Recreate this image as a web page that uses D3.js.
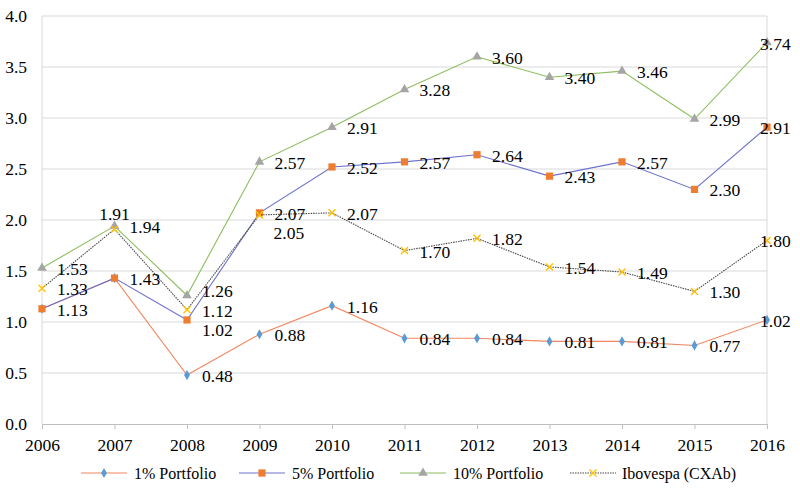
<!DOCTYPE html>
<html>
<head>
<meta charset="utf-8">
<script src="https://cdn.jsdelivr.net/npm/d3@7"></script>
<style>
  html, body { margin: 0; padding: 0; background: #fff; }
  svg { display: block; }
  svg text { font-family: "Liberation Serif", "Tinos", "DejaVu Serif", "Noto Serif", serif !important; }
</style>
</head>
<body>
<svg id="chart" width="800" height="493"></svg>
<script>
const years = ["2006","2007","2008","2009","2010","2011","2012","2013","2014","2015","2016"];
const p1  = [1.13, 1.43, 0.48, 0.88, 1.16, 0.84, 0.84, 0.81, 0.81, 0.77, 1.02];
const p5  = [1.13, 1.43, 1.02, 2.07, 2.52, 2.57, 2.64, 2.43, 2.57, 2.30, 2.91];
const p10 = [1.53, 1.94, 1.26, 2.57, 2.91, 3.28, 3.60, 3.40, 3.46, 2.99, 3.74];
const ibov = [1.33, 1.91, 1.12, 2.05, 2.07, 1.70, 1.82, 1.54, 1.49, 1.30, 1.80];
const yTicks = [0, 0.5, 1.0, 1.5, 2.0, 2.5, 3.0, 3.5, 4.0];
const seriesNames = ["1% Portfolio", "5% Portfolio", "10% Portfolio", "Ibovespa (CXAb)"];

(function () {
const FONT = '"Liberation Serif", "Tinos", "DejaVu Serif", serif';
const series = [
  {name: seriesNames[0], values: p1,  line: "#F2865E", marker: "#5B9BD5", shape: "diamond", dash: null, showLabel: i => i >= 2},
  {name: seriesNames[1], values: p5,  line: "#6D72CC", marker: "#ED7D31", shape: "square",  dash: null, showLabel: i => true},
  {name: seriesNames[2], values: p10, line: "#8DBE5E", marker: "#A5A5A5", shape: "triangle",dash: null, showLabel: i => true},
  {name: seriesNames[3], values: ibov,line: "#4a4a4a", marker: "#FFC000", shape: "cross",   dash: "1.5,1", showLabel: i => true}
];

// special label placements (style, not data)
const labelPlacement = {
  "3-1": "above",   // Ibovespa 2007
  "3-3": "below",   // Ibovespa 2009
  "1-2": "lower",   // 5% 2008
  "2-2": "higher"   // 10% 2008
};

const svg = d3.select("#chart");
const mLeft = 42, mRight = 767, mTop = 16, mBottom = 424;

const x = d3.scalePoint().domain(years).range([mLeft, mRight]);
const y = d3.scaleLinear().domain([0, 4]).range([mBottom, mTop]);

// gridlines
svg.append("g").selectAll("line").data(yTicks.filter(d => d > 0)).join("line")
  .attr("x1", mLeft).attr("x2", mRight)
  .attr("y1", d => y(d)).attr("y2", d => y(d))
  .attr("stroke", "#d9d9d9").attr("stroke-width", 1);

svg.append("line").attr("x1", mLeft).attr("x2", mLeft).attr("y1", mTop).attr("y2", mBottom)
  .attr("stroke", "#d9d9d9");
svg.append("line").attr("x1", mRight).attr("x2", mRight).attr("y1", mTop).attr("y2", mBottom)
  .attr("stroke", "#d9d9d9");

// x axis
const xAxis = svg.append("g").attr("transform", `translate(0,${mBottom})`)
  .call(d3.axisBottom(x).tickSize(5).tickPadding(10));
xAxis.attr("font-family", FONT);
xAxis.select(".domain").attr("stroke", "#bfbfbf");
xAxis.selectAll(".tick line").attr("stroke", "#bfbfbf");
xAxis.selectAll("text").attr("fill", "#000")
  .style("font-family", FONT).style("font-size", "17.5px");

// y axis
const yAxis = svg.append("g").attr("transform", `translate(${mLeft},0)`)
  .call(d3.axisLeft(y).tickValues(yTicks).tickFormat(d3.format(".1f")).tickSize(0).tickPadding(15));
yAxis.attr("font-family", FONT);
yAxis.select(".domain").remove();
yAxis.selectAll("text").attr("fill", "#000")
  .style("font-family", FONT).style("font-size", "17.5px");

function markerPath(shape) {
  switch (shape) {
    case "diamond": return d3.symbol(d3.symbolDiamond, 30)();
    case "square": return d3.symbol(d3.symbolSquare, 52)();
    case "triangle": return d3.symbol(d3.symbolTriangle, 40)();
    case "cross": return "M-3.5,-3.5L3.5,3.5M-3.5,3.5L3.5,-3.5";
  }
}

function drawMarker(g, shape, color) {
  const p = g.append("path").attr("d", markerPath(shape));
  if (shape === "cross") p.attr("fill", "none").attr("stroke", color).attr("stroke-width", 1.4);
  else p.attr("fill", color);
  return p;
}

const lineGen = d3.line().x((d, i) => x(years[i])).y(d => y(d));

series.forEach(s => {
  svg.append("path").datum(s.values)
    .attr("d", lineGen)
    .attr("fill", "none")
    .attr("stroke", s.line)
    .attr("stroke-width", 1.1)
    .attr("stroke-dasharray", s.dash);
  s.values.forEach((v, i) => {
    const g = svg.append("g").attr("transform", `translate(${x(years[i])},${y(v)})`);
    drawMarker(g, s.shape, s.marker);
  });
});

// labels
const labels = svg.append("g").attr("fill", "#000");
series.forEach((s, si) => {
  s.values.forEach((v, i) => {
    if (!s.showLabel(i)) return;
    const px = x(years[i]), py = y(v);
    const place = labelPlacement[`${si}-${i}`];
    let tx = px + 15, ty = py + 1, anchor = "start";
    if (i === years.length - 1) tx = px - 7;
    if (place === "above") { tx = px; ty = py - 15; anchor = "middle"; }
    if (place === "below") { tx = px + 14; ty = py + 18; }
    if (place === "lower") { ty = py + 10; }
    if (place === "higher") { ty = py - 4; }
    labels.append("text")
      .attr("x", tx).attr("y", ty)
      .attr("text-anchor", anchor)
      .attr("dominant-baseline", "central")
      .style("font-family", FONT).style("font-size", "17.5px")
      .text(d3.format(".2f")(v));
  });
});

// legend
const legendItems = [
  {x1: 81, tx: 134},
  {x1: 239, tx: 292},
  {x1: 400, tx: 453},
  {x1: 570, tx: 622}
];
const ly = 473;
series.forEach((s, si) => {
  const li = legendItems[si];
  const g = svg.append("g");
  g.append("line").attr("x1", li.x1).attr("x2", li.x1 + 46)
    .attr("y1", ly).attr("y2", ly)
    .attr("stroke", s.line).attr("stroke-width", 1.1)
    .attr("stroke-dasharray", s.dash);
  const m = g.append("g").attr("transform", `translate(${li.x1 + 23},${ly})`);
  drawMarker(m, s.shape, s.marker);
  g.append("text").attr("x", li.tx).attr("y", ly)
    .attr("dominant-baseline", "central")
    .attr("fill", "#000")
    .style("font-family", FONT).style("font-size", "16px")
    .text(s.name);
});
})();
</script>
</body>
</html>
